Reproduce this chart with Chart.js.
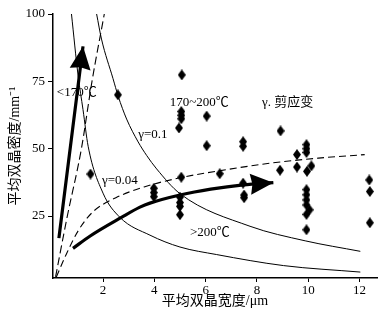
<!DOCTYPE html>
<html>
<head>
<meta charset="utf-8">
<script src="https://cdn.jsdelivr.net/npm/chart.js@4"></script>
<style>
    body { margin: 0; background: #fff; }
    #wrap { width: 391px; height: 317px; }
</style>
</head>
<body>
<div id="wrap"><canvas id="twinChart" width="391" height="317"></canvas></div>
<script>
// measured twins: width (μm) and density (mm^-1)
const twinWidth = [2.58, 1.51, 5.07, 5.05, 5.05, 5.05, 4.96, 6.04, 6.04, 5.05,
    3.98, 3.98, 3.98, 5.0, 5.0, 5.0, 5.0, 6.55, 7.46, 7.46,
    7.46, 7.5, 7.5, 8.92, 8.9, 9.56, 9.56, 9.93, 9.93, 9.93,
    9.95, 10.12, 9.93, 9.93, 9.93, 9.93, 10.05, 9.93, 9.93, 12.38,
    12.4, 12.4];
const twinDensity = [70, 40.6, 77.4, 63.8, 62.4, 61.1, 57.7, 62.1, 51.1, 39.4,
    35.3, 33.7, 32.2, 32.0, 30.0, 28.6, 25.5, 40.7, 52.6, 50.9,
    37.2, 32.8, 31.8, 56.6, 42.0, 47.8, 43.2, 51.5, 50.0, 48.6,
    41.6, 43.6, 34.8, 32.9, 31.0, 29.1, 27.3, 25.6, 19.9, 38.4,
    34.1, 22.5];

// curves
const lowCurveX = [0.77, 1.03, 1.22, 1.42, 2.0, 2.66, 3.83, 5.0, 6.43, 9.04, 12.03];
const lowCurveY = [100, 77, 64.5, 50.9, 33.5, 24.5, 17.9, 13.5, 10.7, 6.6, 4.2];
const highCurveX = [1.75, 1.94, 2.39, 2.59, 2.92, 3.37, 3.7, 4.09, 5.0, 7.73, 9.88, 12.03];
const highCurveY = [100, 90.7, 76, 69.5, 61, 52.5, 47.5, 42.5, 33.3, 21.2, 15.8, 11.9];
const gamma004X = [0.18, 0.6, 1.03, 1.6, 2.5, 3.6, 5.0, 6.8, 8.5, 10.4, 12.2];
const gamma004Y = [2.4, 11.5, 19.5, 26.5, 31.8, 35.8, 39.2, 42.2, 44.6, 46.5, 47.8];
const steepDashX = [0.15, 0.6, 1.15, 1.57, 2.05];
const steepDashY = [2.4, 24.6, 49.6, 75, 100];

// the two thick arrows
const arrowUpX = [0.28, 1.22];
const arrowUpY = [16.8, 88];
const arrowRightX = [0.83, 1.5, 2.72, 3.44, 3.83, 5.0, 6.2, 7.47, 8.64];
const arrowRightY = [13, 17.6, 24.5, 28.3, 29.8, 32.8, 35, 36.6, 37.4];

const xTicks = [2, 4, 6, 8, 10, 12];
const yTicks = [25, 50, 75, 100];

// annotations: text, x, y (data units, left / middle)
const notes = [
    ["<170℃", 0.2, 70.7],
    ["170~200℃", 4.6, 67],
    ["γ. 剪应变", 8.2, 67],
    ["γ=0.1", 3.37, 55.2],
    ["γ=0.04", 1.96, 38.3],
    [">200℃", 5.39, 19]
];

const serif = "'Liberation Serif', 'Noto Sans CJK SC', serif";

function toPoints(xs, ys) {
    return xs.map((v, i) => ({ x: v, y: ys[i] }));
}

// small tall diamond marker
const diamond = document.createElement("canvas");
diamond.width = 8;
diamond.height = 11;
const dctx = diamond.getContext("2d");
dctx.fillStyle = "#000";
dctx.beginPath();
dctx.moveTo(4, 0);
dctx.lineTo(8, 5.5);
dctx.lineTo(4, 11);
dctx.lineTo(0, 5.5);
dctx.closePath();
dctx.fill();

function lineSet(xs, ys, width, dash) {
    return {
        data: toPoints(xs, ys),
        showLine: true,
        borderColor: "#000",
        borderWidth: width,
        borderDash: dash || [],
        pointRadius: 0,
        cubicInterpolationMode: "monotone",
        fill: false,
    };
}

const overlay = {
    id: "overlay",
    afterDatasetsDraw(chart) {
        const { ctx, scales: { x, y } } = chart;
        ctx.save();
        ctx.fillStyle = "#000";
        [[arrowUpX, arrowUpY], [arrowRightX, arrowRightY]].forEach(([ax, ay]) => {
            const n = ax.length;
            const tx = x.getPixelForValue(ax[n - 1]);
            const ty = y.getPixelForValue(ay[n - 1]);
            const px = x.getPixelForValue(ax[n - 2]);
            const py = y.getPixelForValue(ay[n - 2]);
            const ang = Math.atan2(ty - py, tx - px);
            ctx.save();
            ctx.translate(tx, ty);
            ctx.rotate(ang);
            ctx.beginPath();
            ctx.moveTo(0, 0);
            ctx.lineTo(-23, -10.5);
            ctx.lineTo(-21, 0);
            ctx.lineTo(-23, 10.5);
            ctx.closePath();
            ctx.fill();
            ctx.restore();
        });

        ctx.font = "13px " + serif;
        ctx.textBaseline = "middle";
        ctx.textAlign = "left";
        notes.forEach(([t, nx, ny]) => {
            ctx.fillText(t, x.getPixelForValue(nx), y.getPixelForValue(ny));
        });
        ctx.restore();
    },
};

const ctx = document.getElementById("twinChart").getContext("2d");

new Chart(ctx, {
    type: "scatter",
    data: {
        datasets: [
            lineSet(lowCurveX, lowCurveY, 1),
            lineSet(highCurveX, highCurveY, 1),
            lineSet(gamma004X, gamma004Y, 1.1, [7, 4]),
            lineSet(steepDashX, steepDashY, 1.1, [8, 4]),
            lineSet(arrowUpX, arrowUpY, 3.2),
            lineSet(arrowRightX, arrowRightY, 3.2),
            {
                data: toPoints(twinWidth, twinDensity),
                pointStyle: diamond,
                pointRadius: 5,
                showLine: false,
            },
        ],
    },
    options: {
        responsive: false,
        animation: false,
        layout: { padding: { top: 14, right: 14, left: 0, bottom: 0 } },
        plugins: {
            legend: { display: false },
            tooltip: { enabled: false },
        },
        scales: {
            x: {
                type: "linear",
                min: 0.05,
                max: 12.68,
                afterBuildTicks: (s) => { s.ticks = xTicks.map((v) => ({ value: v })); },
                afterFit: (s) => { s.height = 39; },
                border: { display: true, color: "#000", width: 1.5 },
                grid: { drawOnChartArea: false, drawTicks: true, tickLength: 4, color: "#000" },
                ticks: { color: "#000", padding: 1, font: { family: serif, size: 13 } },
                title: {
                    display: true,
                    text: "平均双晶宽度/μm",
                    color: "#000",
                    padding: { top: 0, bottom: 7 },
                    font: { family: serif, size: 14 },
                },
            },
            y: {
                type: "linear",
                min: 2,
                max: 100,
                afterBuildTicks: (s) => { s.ticks = yTicks.map((v) => ({ value: v })); },
                afterFit: (s) => { s.width = 53; },
                border: { display: true, color: "#000", width: 1.5 },
                grid: { drawOnChartArea: false, drawTicks: true, tickLength: 5, color: "#000" },
                ticks: { color: "#000", padding: 3, font: { family: serif, size: 13 } },
                title: {
                    display: true,
                    text: "平均双晶密度/mm⁻¹",
                    color: "#000",
                    padding: { top: 7, bottom: 0 },
                    font: { family: serif, size: 14 },
                },
            },
        },
    },
    plugins: [overlay],
});
</script>
</body>
</html>
